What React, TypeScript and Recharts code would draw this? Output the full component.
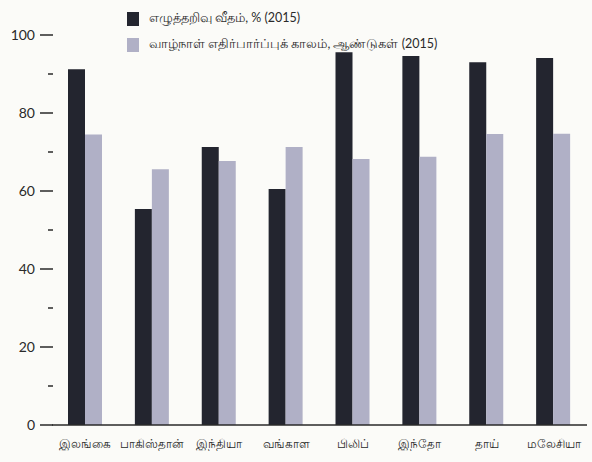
import { Bar, BarChart, XAxis, YAxis } from "recharts";

const countries = ["இலங்கை", "பாகிஸ்தான்", "இந்தியா", "வங்காள", "பிலிப்", "இந்தோ", "தாய்", "மலேசியா"];
const literacy = [91.2, 55.4, 71.3, 60.5, 95.6, 94.6, 93, 94.1];
const lifeExpectancy = [74.5, 65.6, 67.7, 71.3, 68.2, 68.8, 74.6, 74.7];
const yTicks = [0, 10, 20, 30, 40, 50, 60, 70, 80, 90, 100];

const LITERACY_NAME = "எழுத்தறிவு வீதம், % (2015)";
const LIFE_NAME = "வாழ்நாள் எதிர்பார்ப்புக் காலம், ஆண்டுகள் (2015)";

const DARK = "#23252f";
const LAVENDER = "#b0b0c6";
const INK = "#2a2a2a";
const FONT = "Lato, 'Noto Sans', sans-serif";

const data = countries.map((name, i) => ({
  name,
  literacy: literacy[i],
  life: lifeExpectancy[i],
}));

// labelled dash every 20, short dash in between
function YTick({ x, y, payload }: any) {
  const major = payload.value % 20 === 0;
  return (
    <g>
      {major ? (
        <>
          <text x={x - 17} y={y} dy={5} textAnchor="end" fill={INK} fontSize={14} fontFamily={FONT}>
            {payload.value}
          </text>
          <line x1={x - 12} x2={x + 1} y1={y} y2={y} stroke={INK} strokeWidth={1.5} />
        </>
      ) : (
        <line x1={x - 4} x2={x + 1} y1={y} y2={y} stroke={INK} strokeWidth={1.5} />
      )}
    </g>
  );
}

function LegendBox() {
  const row = (color: string, label: string, top: number) => (
    <div style={{ position: "absolute", left: 127, top, display: "flex", alignItems: "center" }}>
      <span style={{ width: 12, height: 14, background: color, display: "inline-block", marginRight: 10 }} />
      <span style={{ fontSize: 12.5, color: INK, fontFamily: FONT, whiteSpace: "nowrap" }}>{label}</span>
    </div>
  );
  return (
    <>
      {row(DARK, LITERACY_NAME, 10)}
      {row(LAVENDER, LIFE_NAME, 36)}
    </>
  );
}

export default function App() {
  return (
    <div style={{ position: "fixed", left: 0, top: 0, width: 592, height: 462, background: "#fbfbf8" }}>
      <BarChart
        width={592}
        height={462}
        data={data}
        barGap={0}
        barCategoryGap="24%"
        margin={{ top: 35, right: 5, left: 0, bottom: 7 }}
      >
        <YAxis
          width={52}
          domain={[0, 100]}
          ticks={yTicks}
          interval={0}
          axisLine={false}
          tickLine={false}
          tickSize={0}
          tickMargin={0}
          tick={<YTick />}
        />
        <XAxis
          dataKey="name"
          height={30}
          interval={0}
          axisLine={{ stroke: INK, strokeWidth: 1.5 }}
          tickLine={false}
          tick={{ fill: INK, fontSize: 12, fontFamily: FONT }}
          tickMargin={8}
        />
        <Bar dataKey="literacy" name={LITERACY_NAME} fill={DARK} barSize={17} isAnimationActive={false} />
        <Bar dataKey="life" name={LIFE_NAME} fill={LAVENDER} barSize={17} isAnimationActive={false} />
      </BarChart>
      <LegendBox />
    </div>
  );
}
